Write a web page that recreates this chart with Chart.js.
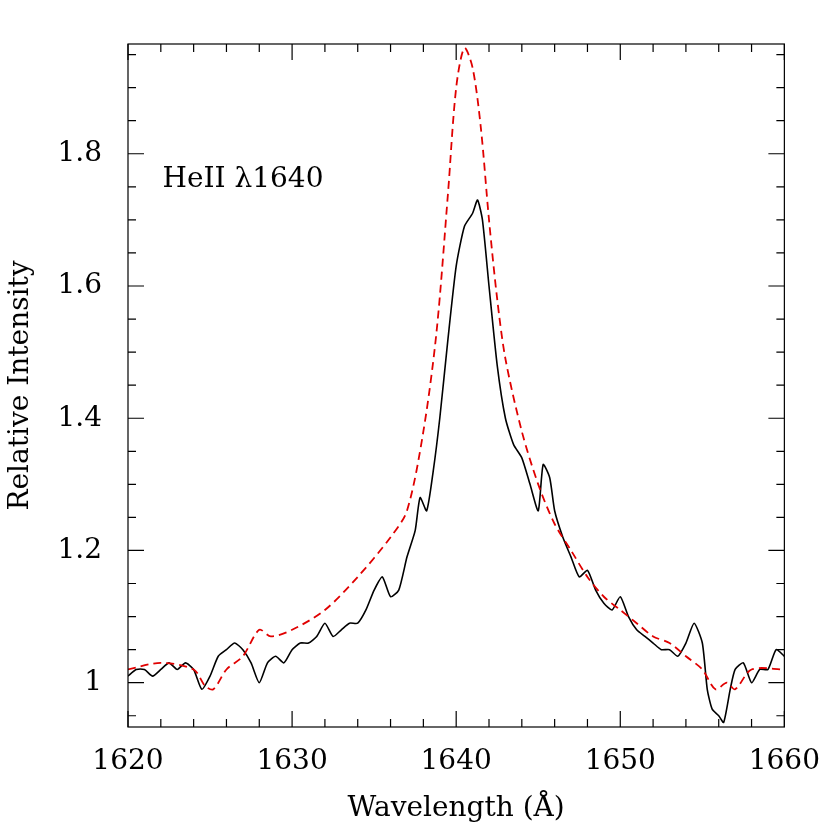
<!DOCTYPE html>
<html><head><meta charset="utf-8">
<script src="https://cdn.jsdelivr.net/npm/chart.js@4"></script>
<style>html,body{margin:0;background:#fff}#w{width:830px;height:830px}</style>
</head><body><div id="w"><canvas id="c"></canvas></div>
<script>
const observedX=[1620,1620.5,1621,1621.5,1622,1622.5,1623,1623.5,1624,1624.5,1625,1625.5,1626,1626.5,1627,1627.5,1628,1628.5,1629,1629.5,1630,1630.5,1631,1631.5,1632,1632.5,1633,1633.5,1634,1634.5,1635,1635.5,1636,1636.5,1637,1637.5,1637.8,1638.2,1638.6,1639,1639.5,1640,1640.5,1641,1641.3,1641.6,1642,1642.5,1643,1643.5,1644,1644.5,1645,1645.3,1645.7,1646,1646.5,1647,1647.5,1648,1648.5,1649,1649.5,1650,1650.5,1651,1651.5,1652,1652.5,1653,1653.5,1654,1654.5,1655,1655.3,1655.6,1656,1656.3,1656.7,1657,1657.5,1658,1658.5,1659,1659.5,1660];
const observedY=[1.01,1.02,1.02,1.01,1.02,1.03,1.02,1.03,1.02,0.99,1.01,1.04,1.05,1.06,1.05,1.03,1.0,1.03,1.04,1.03,1.05,1.06,1.06,1.07,1.09,1.07,1.08,1.09,1.09,1.11,1.14,1.16,1.13,1.14,1.19,1.23,1.28,1.26,1.32,1.40,1.52,1.63,1.69,1.71,1.73,1.70,1.60,1.48,1.40,1.36,1.34,1.30,1.26,1.33,1.31,1.26,1.22,1.19,1.16,1.17,1.14,1.12,1.11,1.13,1.10,1.08,1.07,1.06,1.05,1.05,1.04,1.06,1.09,1.06,0.99,0.96,0.95,0.94,0.99,1.02,1.03,1.0,1.02,1.02,1.05,1.04];
const modelX=[1620,1622,1624,1624.7,1625.2,1626,1627,1628,1628.7,1630,1632,1634,1636,1637,1638,1638.8,1639.5,1640,1640.5,1641,1641.5,1642,1642.5,1643,1644,1645,1646,1647,1648,1649,1650,1651,1652,1653,1654,1655,1655.8,1656.5,1657,1658,1660];
const modelY=[1.02,1.03,1.02,0.995,0.99,1.02,1.04,1.08,1.07,1.08,1.11,1.16,1.22,1.26,1.38,1.53,1.74,1.90,1.96,1.93,1.84,1.70,1.58,1.49,1.38,1.30,1.24,1.20,1.16,1.13,1.11,1.09,1.07,1.06,1.04,1.02,0.99,1.0,0.99,1.02,1.02];
const xTicks=[1620,1630,1640,1650,1660];
const yTicks=[1,1.2,1.4,1.6,1.8];
const label="HeII λ1640";
const F='"DejaVu Serif", "Liberation Serif", serif';
const tickPlugin={id:'tk',afterDraw(ch){
  const c=ch.ctx,a=ch.chartArea,x=ch.scales.x,y=ch.scales.y;
  c.save();c.strokeStyle='#000';c.lineWidth=1.2;c.beginPath();
  for(let v=1620;v<=1660;v+=2){const p=x.getPixelForValue(v),L=(v%10===0)?16:8;
    c.moveTo(p,a.bottom);c.lineTo(p,a.bottom-L);c.moveTo(p,a.top);c.lineTo(p,a.top+L);}
  for(let i=0;i<=20;i++){const v=0.95+i*0.05;if(v>y.max)break;const p=y.getPixelForValue(v);
    const maj=Math.abs(((v-1)/0.2)-Math.round((v-1)/0.2))<1e-6;const L=maj?16:8;
    c.moveTo(a.left,p);c.lineTo(a.left+L,p);c.moveTo(a.right,p);c.lineTo(a.right-L,p);}
  c.stroke();c.lineWidth=1.2;c.strokeRect(a.left,a.top,a.right-a.left,a.bottom-a.top);
  c.fillStyle='#000';c.font='28px '+F;c.textBaseline='middle';
  c.fillText(label,x.getPixelForValue(1622.1),y.getPixelForValue(1.76));
  c.restore();}};
new Chart(document.getElementById('c'),{type:'scatter',
 data:{datasets:[
  {data:modelX.map((v,i)=>({x:v,y:modelY[i]})),showLine:true,borderColor:'#e00000',borderWidth:1.8,borderDash:[8,5],pointRadius:0,tension:0.3},
  {data:observedX.map((v,i)=>({x:v,y:observedY[i]})),showLine:true,borderColor:'#000',borderWidth:1.6,pointRadius:0,tension:0.2}]},
 options:{responsive:true,maintainAspectRatio:false,animation:false,
  layout:{padding:{top:44,right:43,left:0,bottom:0}},
  plugins:{legend:{display:false},tooltip:{enabled:false}},
  scales:{
   x:{type:'linear',min:1620,max:1660,grid:{display:false},border:{display:false},
     afterBuildTicks:s=>{s.ticks=xTicks.map(v=>({value:v}))},
     afterFit:s=>{s.height=103},
     ticks:{color:'#000',font:{family:F,size:28},padding:10,maxRotation:0,callback:v=>String(v)},
     title:{display:true,text:'Wavelength (Å)',color:'#000',font:{family:F,size:28},padding:{top:4}}},
   y:{type:'linear',min:0.933,max:1.966,grid:{display:false},border:{display:false},
     afterBuildTicks:s=>{s.ticks=yTicks.map(v=>({value:v}))},
     afterFit:s=>{s.width=128},
     ticks:{color:'#000',font:{family:F,size:28},padding:18,callback:v=>v===1?'1':v.toFixed(1)},
     title:{display:true,text:'Relative Intensity',color:'#000',font:{family:F,size:28},padding:{bottom:4}}}}},
 plugins:[tickPlugin]});
</script></body></html>
